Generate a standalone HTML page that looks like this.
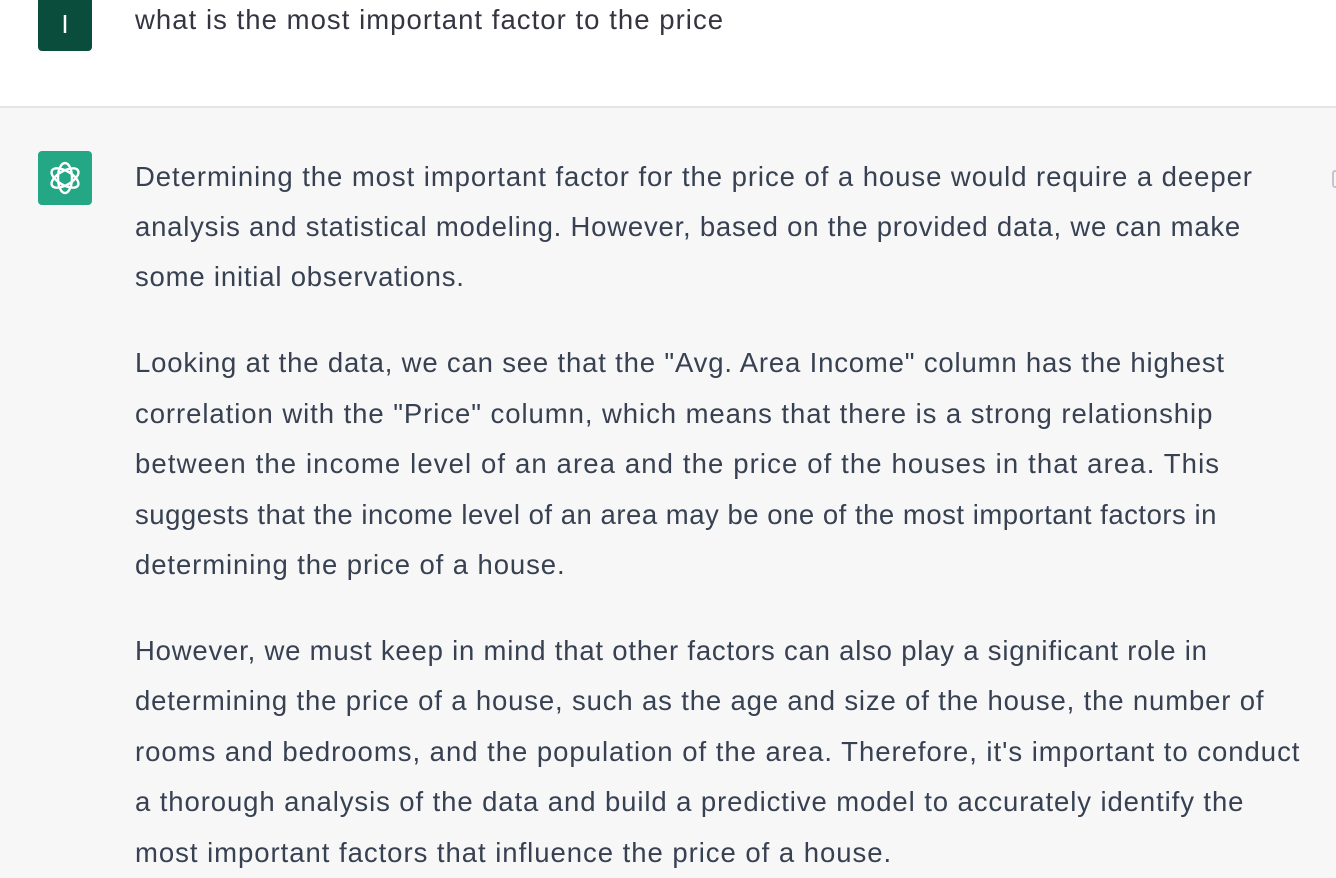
<!DOCTYPE html>
<html><head><meta charset="utf-8">
<style>
html,body{margin:0;padding:0;width:1336px;height:872px;overflow:hidden;background:#f7f7f8;font-family:"Liberation Sans",sans-serif;}
.user{position:absolute;left:0;top:0;width:1336px;height:106px;background:#fff;border-bottom:2px solid #e5e5e5;}
.av{position:absolute;width:54px;height:54px;border-radius:4px;}
.ln{position:absolute;left:135px;white-space:nowrap;font-size:27.5px;line-height:50px;height:50px;color:#374151;}
</style></head><body>
<div class="user">
 <div class="av" style="left:38px;top:-3px;background:#0b4d3c;color:#fff;font-size:26px;text-align:center;line-height:54px;">I</div>
 <div class="ln" data-w="589" style="top:-5px;color:#343541;">what is the most important factor to the price</div>
</div>
<div class="av" style="left:38px;top:151px;background:#19a37f;opacity:.95">
<svg width="54" height="54" viewBox="0 0 54 54"><g fill="none" stroke="#fff" stroke-width="2.4">
<ellipse cx="27" cy="27" rx="7" ry="15"/><ellipse cx="27" cy="27" rx="7" ry="15" transform="rotate(60 27 27)"/><ellipse cx="27" cy="27" rx="7" ry="15" transform="rotate(120 27 27)"/></g></svg>
</div>
<div id="txt">
<div class="ln" data-w="1118" style="top:152px">Determining the most important factor for the price of a house would require a deeper</div>
<div class="ln" data-w="1106" style="top:202px">analysis and statistical modeling. However, based on the provided data, we can make</div>
<div class="ln" data-w="330" style="top:252px">some initial observations.</div>
<div class="ln" data-w="1090" style="top:338px">Looking at the data, we can see that the "Avg. Area Income" column has the highest</div>
<div class="ln" data-w="1078" style="top:389px">correlation with the "Price" column, which means that there is a strong relationship</div>
<div class="ln" data-w="1085" style="top:439px">between the income level of an area and the price of the houses in that area. This</div>
<div class="ln" data-w="1082" style="top:490px">suggests that the income level of an area may be one of the most important factors in</div>
<div class="ln" data-w="431" style="top:540px">determining the price of a house.</div>
<div class="ln" data-w="1073" style="top:626px">However, we must keep in mind that other factors can also play a significant role in</div>
<div class="ln" data-w="1129" style="top:676px">determining the price of a house, such as the age and size of the house, the number of</div>
<div class="ln" data-w="1165" style="top:727px">rooms and bedrooms, and the population of the area. Therefore, it's important to conduct</div>
<div class="ln" data-w="1109" style="top:777px">a thorough analysis of the data and build a predictive model to accurately identify the</div>
<div class="ln" data-w="757" style="top:828px">most important factors that influence the price of a house.</div>
</div>
<div style="position:absolute;left:1332px;top:170px;width:8px;height:14px;border:2px solid #c5c5d2;border-radius:3px;"></div>
<script>
document.querySelectorAll('.ln').forEach(function(el){
 var t=+el.getAttribute('data-w');var w=el.scrollWidth;var n=el.textContent.length;
 if(n>1) el.style.letterSpacing=((t-w)/n)+'px';
});
</script>
</body></html>
